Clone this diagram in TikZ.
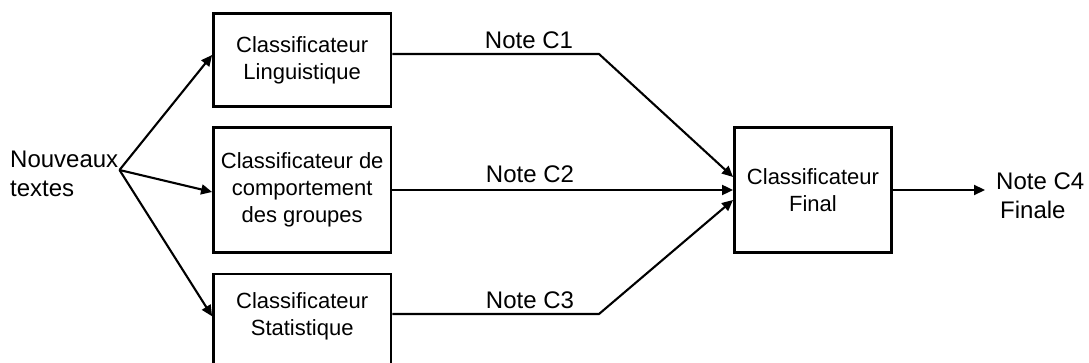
\documentclass[tikz,border=0pt]{standalone}
\usepackage{fontspec}
\setmainfont{Liberation Sans}
\usetikzlibrary{arrows.meta,calc}
\begin{document}
\begin{tikzpicture}[x=1pt,y=-1pt,
  box/.style={draw,line width=2.5pt,minimum width=177.7pt,inner sep=0pt,align=center,font=\fontsize{22}{27}\selectfont},
  txt/.style={inner sep=0pt,align=center,font=\fontsize{22}{27}\selectfont},
  lbl/.style={inner sep=0pt,font=\fontsize{24}{29}\selectfont},
  arr/.style={line width=2.1pt,-{Triangle[length=11pt,width=10pt]}},
  ln/.style={line width=2pt,line join=miter}]
\useasboundingbox (0,0) rectangle (1089,363);

% input text
\node[lbl,align=left,anchor=west] (in) at (10,174) {Nouveaux\\textes};
\coordinate (src) at (119.5,170);

% classifier boxes
\node[box,minimum height=93.4pt] (b1) at (302.2,60) {Classificateur\\Linguistique};
\node[box,minimum height=124.6pt] (b2) at (302.2,190) {Classificateur de\\comportement\\des groupes};
\node[box,minimum height=125pt] (b3) at (302.2,336.5) {};
\node[txt] (b3t) at (302.2,316.3) {Classificateur\\Statistique};

% final box
\node[box,minimum width=157.4pt,minimum height=125pt] (fb) at (813,190) {Classificateur\\Final};

% output
\node[lbl,align=left,anchor=west] (out) at (996,196) {Note C4\\\hspace*{4pt}Finale};

% input arrows
\draw[arr] (src) -- ($(b1.west)+(0,-5)$);
\draw[arr] (src) -- ($(b2.west)+(0,2)$);
\draw[arr] (src) -- (b3.west |- b3t);

% bend points
\coordinate (k1) at (599,54);
\coordinate (k3) at (599,314);

% output arrows of classifiers
\draw[arr,line join=miter] (b1.east |- k1) -- (k1) -- ($(fb.west)+(0,-13)$);
\draw[arr] (b2.east) -- (fb.west);
\draw[arr,line join=miter] (b3.east |- k3) -- (k3) -- ($(fb.west)+(0,10)$);

% labels
\node[lbl,anchor=base] (n1) at (529,48.3) {Note C1};
\node[lbl,anchor=base] (n2) at (530,182.7) {Note C2};
\node[lbl,anchor=base] (n3) at (530,308.3) {Note C3};

% final arrow
\draw[arr] (fb.east) -- (985,190) coordinate (fend);
\end{tikzpicture}
\end{document}
